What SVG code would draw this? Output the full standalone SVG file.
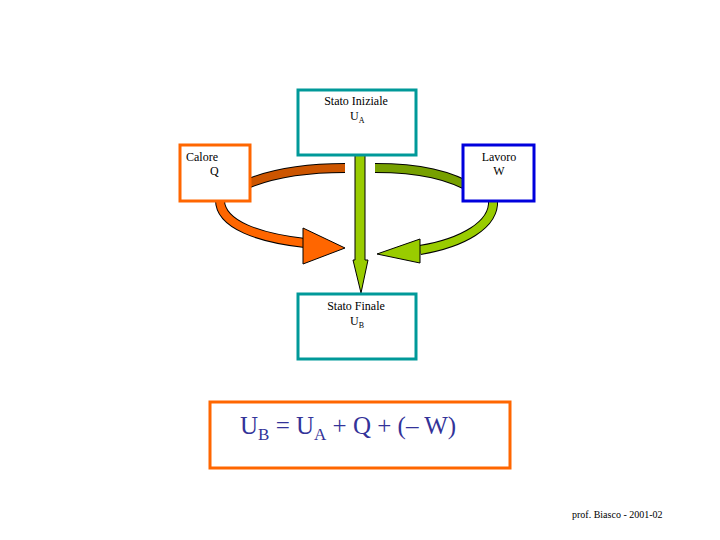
<svg xmlns="http://www.w3.org/2000/svg" width="720" height="540" viewBox="0 0 720 540">
<style>
text{font-family:"Liberation Serif",serif;fill:#000}
.s{font-size:12px}
.box{fill:#fff;stroke-width:3}
.ol{fill:none;stroke:#000;stroke-width:10}
</style>
<rect width="720" height="540" fill="#fff"/>
<g id="connectors">
<path class="ol" d="M345,168 C300,168 260,175 230,192"/>
<path d="M345,168 C300,168 260,175 230,192" fill="none" stroke="#cc5500" stroke-width="8"/>
<path class="ol" d="M220,200 C220,225 260,238 305,243"/>
<path d="M220,200 C220,225 260,238 305,243" fill="none" stroke="#ff6600" stroke-width="8"/>
<polygon points="303,228 345,248 303,264" fill="#ff6600" stroke="#000"/>
<path class="ol" d="M375,168 C420,168 450,175 475,190"/>
<path d="M375,168 C420,168 450,175 475,190" fill="none" stroke="#77a000" stroke-width="8"/>
<path class="ol" d="M493,200 C495,225 462,243 420,250"/>
<path d="M493,200 C495,225 462,243 420,250" fill="none" stroke="#99cc00" stroke-width="8"/>
<polygon points="420,239 377,254 420,263" fill="#99cc00" stroke="#000"/>
<polygon points="355,155 365,155 365,260 368,260 361,293 353,260 355,260" fill="#99cc00" stroke="#000"/>
</g>
<g id="inizio"><rect class="box" x="298" y="90" width="118" height="65" stroke="#009999"/>
<text class="s" x="356" y="105" text-anchor="middle">Stato Iniziale</text>
<text class="s" x="350" y="120">U<tspan font-size="8" dy="3">A</tspan></text></g>
<g id="calore"><rect class="box" x="180" y="145" width="70" height="56" stroke="#ff6600"/>
<text class="s" x="186" y="161">Calore</text><text class="s" x="210" y="175">Q</text></g>
<g id="lavoro"><rect class="box" x="463" y="145" width="71" height="56" stroke="#0000dd"/>
<text class="s" x="499" y="161" text-anchor="middle">Lavoro</text><text class="s" x="499" y="175" text-anchor="middle">W</text></g>
<g id="fine"><rect class="box" x="298" y="294" width="118" height="65" stroke="#009999"/>
<text class="s" x="356" y="310" text-anchor="middle">Stato Finale</text>
<text class="s" x="350" y="325">U<tspan font-size="8" dy="3">B</tspan></text></g>
<g id="formula"><rect class="box" x="210" y="402" width="300" height="66" stroke="#ff6600"/>
<text x="240" y="434" font-size="25" style="fill:#333399">U<tspan font-size="17" dy="6">B</tspan><tspan dy="-6"> = U</tspan><tspan font-size="17" dy="6">A</tspan><tspan dy="-6"> + Q + (– W)</tspan></text></g>
<text x="572" y="518" font-size="10">prof. Biasco - 2001-02</text>
</svg>
